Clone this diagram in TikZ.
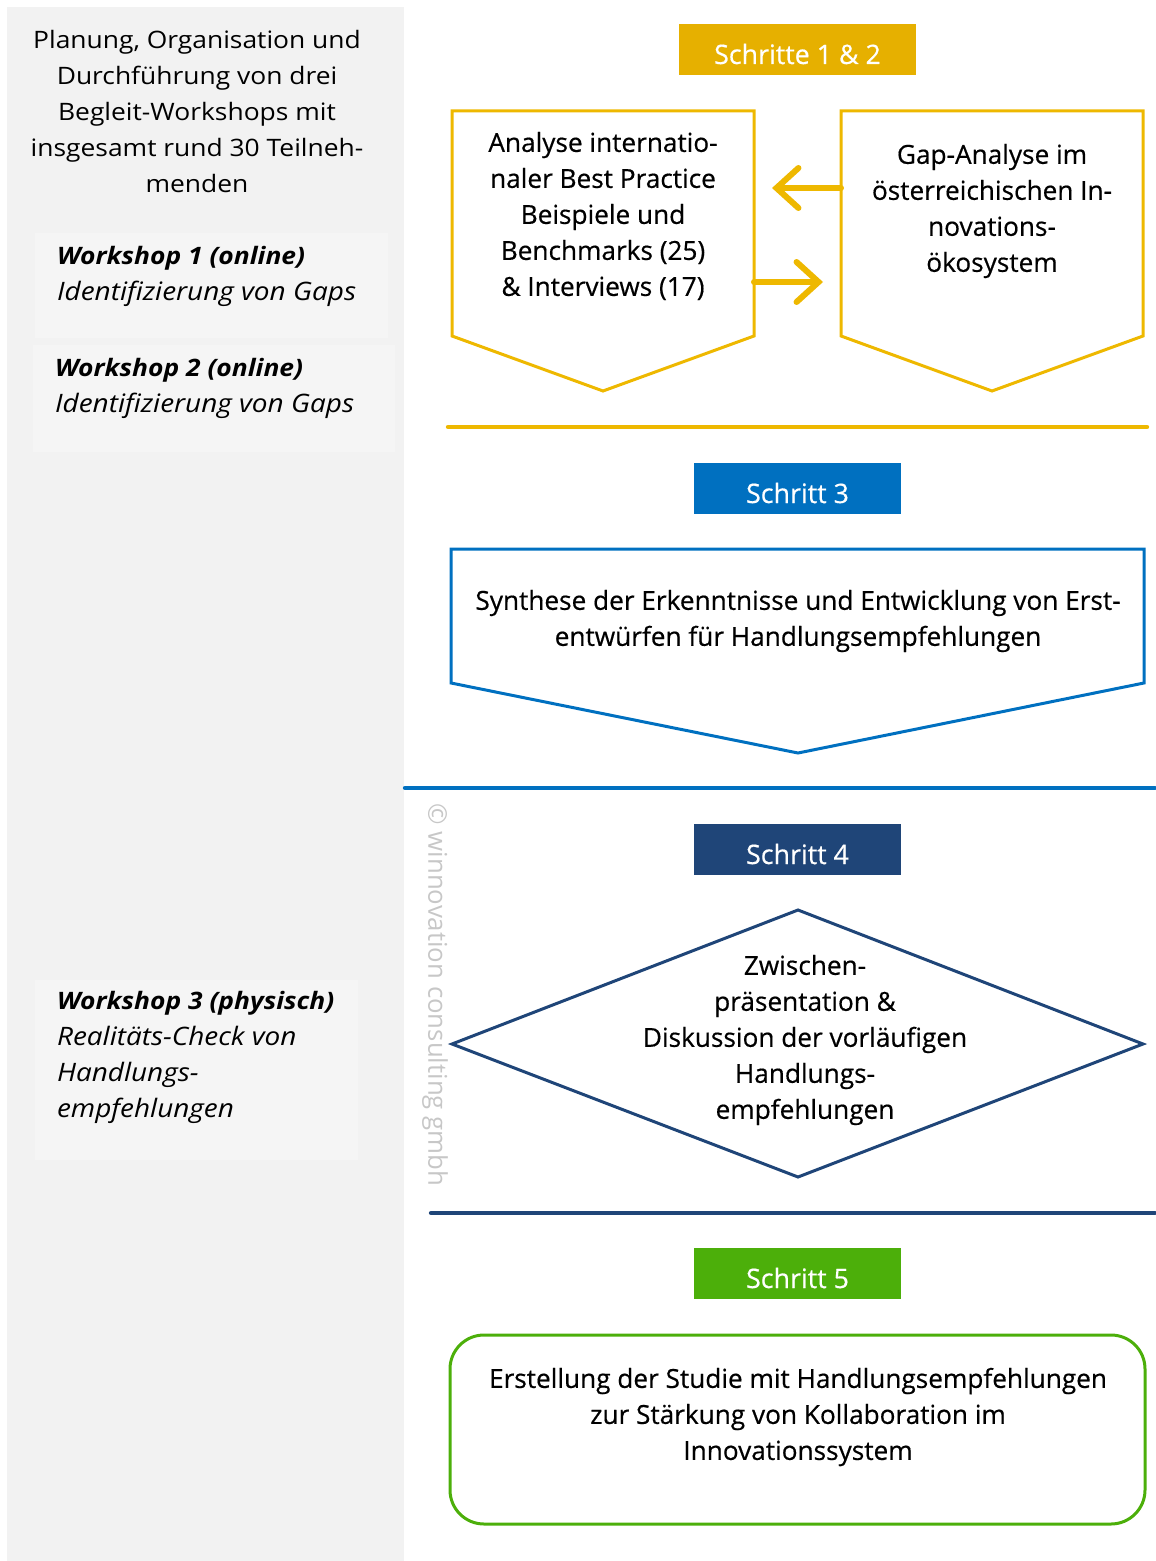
\documentclass[tikz,border=0pt]{standalone}
\usepackage{fontspec}
\setmainfont{Open Sans}
\newfontfamily\widefont{Open Sans}[FakeStretch=1.1]
\newfontfamily\heavyfont{Open Sans}[FakeBold=0.5]
\usetikzlibrary{arrows.meta}
\definecolor{gold}{HTML}{E6B000}
\definecolor{goldline}{HTML}{EEB800}
\definecolor{stepblue}{HTML}{0070C0}
\definecolor{navy}{HTML}{1F4578}
\definecolor{leaf}{HTML}{4CAF0A}
\definecolor{panel}{HTML}{F2F2F2}
\definecolor{panelbox}{HTML}{F5F5F5}
\tikzset{
  steplabel/.style={fill=#1,text=white,inner sep=0pt,minimum height=25.5pt,
    text height=14.5pt,text depth=0pt,font=\heavyfont\fontsize{13.4}{15}\selectfont},
  boxtext/.style={align=center,font=\heavyfont\fontsize{13.1}{18}\selectfont},
  sidetext/.style={align=left,anchor=west,font=\widefont\itshape\fontsize{12.7}{18}\selectfont},
  outline/.style={line width=1.5pt,line join=miter},
  arrowline/.style={goldline,line width=3pt,line cap=round,
    -{Straight Barb[length=11pt,width=20pt,line cap=round]}}
}
\begin{document}
\begin{tikzpicture}[x=0.5pt,y=-0.5pt]
\useasboundingbox (0,0) rectangle (1155,1561);
\fill[panel] (7,7) rectangle (404,1561);
\fill[panelbox] (35,233) rectangle (388,338);
\fill[panelbox] (33,345) rectangle (395,452);
\fill[panelbox] (35,980) rectangle (358,1160);
\node[align=center,font=\widefont\fontsize{12}{18}\selectfont] (plan) at (197,112)
  {Planung, Organisation und\\Durchführung von drei\\Begleit-Workshops mit\\insgesamt rund 30 Teilneh-\\menden};
\node[sidetext] (ws1) at (50,276) {{\fontsize{12}{18}\selectfont\bfseries Workshop 1 (online)}\\Identifizierung von Gaps};
\node[sidetext] (ws2) at (48,388) {{\fontsize{12}{18}\selectfont\bfseries Workshop 2 (online)}\\Identifizierung von Gaps};
\node[sidetext] (ws3) at (50,1057) {{\fontsize{12}{18}\selectfont\bfseries Workshop 3 (physisch)}\\Realitäts-Check von\\Handlungs-\\empfehlungen};
\node[rotate=-90,text=black!22,font=\fontsize{12.9}{14}\selectfont] (copy) at (435,995) {© winnovation consulting gmbh};
\node[steplabel=gold,minimum width=118.5pt] (s12) at (797.5,49.5) {Schritte 1 \& 2};
\draw[outline,goldline] (452,111) -- (754,111) -- (754,336) -- (603,391) -- (452,336) -- cycle;
\draw[outline,goldline] (841,111) -- (1143,111) -- (1143,336) -- (992,391) -- (841,336) -- cycle;
\node[boxtext] (ana) at (603,216) {Analyse internatio-\\naler Best Practice\\Beispiele und\\Benchmarks (25)\\\& Interviews (17)};
\node[boxtext] (gap) at (992,211) {Gap-Analyse im\\österreichischen In-\\novations-\\ökosystem};
\coordinate (gapL) at (841,188);
\coordinate (anaIn) at (772,188);
\coordinate (anaR) at (754,282);
\coordinate (gapIn) at (823,282);
\draw[arrowline] (gapL) -- (anaIn);
\draw[arrowline] (anaR) -- (gapIn);
\draw[goldline,line width=2.2pt,line cap=round] (448,427) -- (1147,427);
\node[steplabel=stepblue,minimum width=103.5pt] (s3) at (797.5,488.5) {Schritt 3};
\draw[outline,stepblue] (451,549) -- (1144,549) -- (1144,683) -- (798,753) -- (451,683) -- cycle;
\node[boxtext] (syn) at (798,621) {Synthese der Erkenntnisse und Entwicklung von Erst-\\entwürfen für Handlungsempfehlungen};
\draw[stepblue,line width=2.2pt,line cap=round] (405,788) -- (1155,788);
\node[steplabel=navy,minimum width=103.5pt] (s4) at (797.5,849.5) {Schritt 4};
\draw[outline,navy] (452,1044) -- (798,910) -- (1143,1044) -- (798,1177) -- cycle;
\node[boxtext] (zw) at (805,1040) {Zwischen-\\präsentation \&\\Diskussion der vorläufigen\\Handlungs-\\empfehlungen};
\draw[navy,line width=2.2pt,line cap=round] (431,1213) -- (1155,1213);
\node[steplabel=leaf,minimum width=103.5pt] (s5) at (797.5,1273.5) {Schritt 5};
\draw[outline,leaf,rounded corners=17pt] (450,1335) rectangle (1145,1524);
\node[boxtext] (stud) at (798,1417) {Erstellung der Studie mit Handlungsempfehlungen\\zur Stärkung von Kollaboration im\\Innovationssystem};
\end{tikzpicture}
\end{document}
